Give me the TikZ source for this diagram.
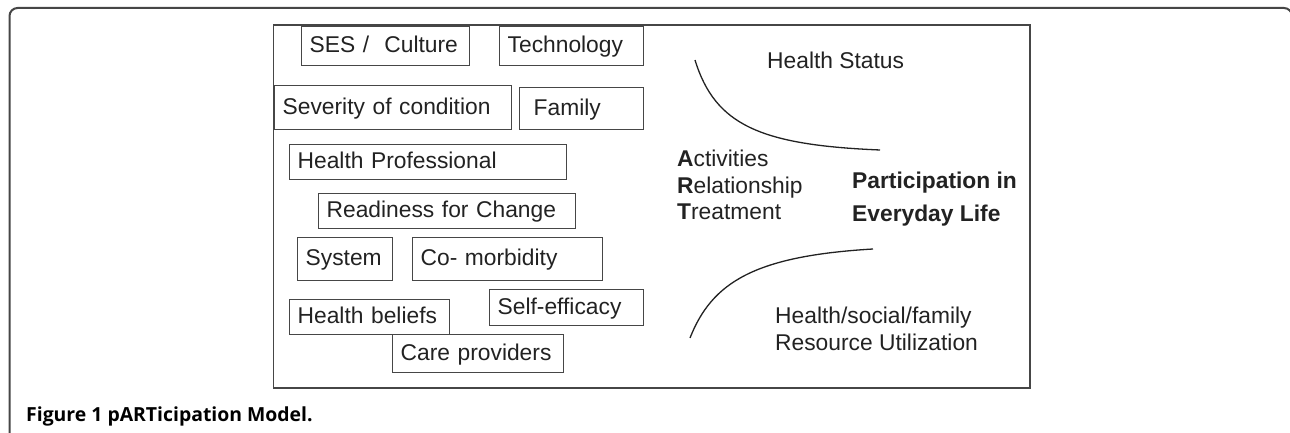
\documentclass[tikz,border=0pt]{standalone}
\usepackage{fontspec}
\setmainfont{Liberation Sans}
\newfontfamily\captionfont{Open Sans}
\usetikzlibrary{positioning}
\definecolor{ink}{RGB}{34,34,34}
\definecolor{rule}{RGB}{70,70,70}

\tikzset{
  factor/.style={draw=rule, line width=1.3pt, anchor=north west, inner xsep=8pt, inner ysep=0pt,
    align=left, text=ink, text height=17.5pt, text depth=4.5pt, font=\fontsize{22.8}{27}\selectfont},
  plaintext/.style={anchor=base west, inner sep=0pt, text=ink, font=\fontsize{22.8}{27}\selectfont},
  curve/.style={draw=ink, line width=1.3pt}
}

\begin{document}
\begin{tikzpicture}[x=1pt, y=-1pt]

\useasboundingbox (0, 0) rectangle (1290, 433);

\begin{scope}
\clip (0, 0) rectangle (1290, 433);
\draw[rule, line width=2pt, rounded corners=8pt] (9.5, 8) rectangle (1292, 442);
\end{scope}

\draw[rule, line width=1.6pt] (273.5, 25) rectangle (1030, 388);

\node[factor, minimum width=168pt, minimum height=39pt, text width=152pt] (ses) at (301, 26) {SES / \ Culture};
\node[factor, minimum width=144pt, minimum height=39pt, text width=128pt] (tech) at (499, 26) {Technology};
\node[factor, minimum width=237pt, minimum height=44pt, text width=221pt] (severity) at (274, 85) {Severity of condition};
\node[factor, minimum width=124pt, minimum height=42pt, text width=96pt, inner xsep=14pt] (family) at (519, 87) {Family};
\node[factor, minimum width=277pt, minimum height=35pt, text width=261pt] (profession) at (289, 144) {Health Professional};
\node[factor, minimum width=257pt, minimum height=35pt, text width=241pt] (readiness) at (318, 193) {Readiness for Change};
\node[factor, minimum width=95pt, minimum height=43pt, text width=79pt] (system) at (297, 237) {System};
\node[factor, minimum width=190pt, minimum height=43pt, text width=174pt] (comorb) at (412, 237) {Co- morbidity};
\node[factor, minimum width=154pt, minimum height=36pt, text width=138pt] (efficacy) at (489, 289) {Self-efficacy};
\node[factor, minimum width=160pt, minimum height=35pt, text width=144pt] (beliefs) at (289, 299) {Health beliefs};
\node[factor, minimum width=171pt, minimum height=38pt, text width=155pt] (carers) at (392, 334) {Care providers};

\node[plaintext] (status) at (767, 69) {Health Status};
\coordinate (status top) at (695, 60);
\coordinate (status end) at (880, 150);
\draw[curve] (status top) .. controls (715, 125) and (760, 145) .. (status end);

\node[plaintext] (act) at (677, 166) {\textbf{A}ctivities};
\node[plaintext] (rel) at (677, 193) {\textbf{R}elationship};
\node[plaintext] (treat) at (677, 219) {\textbf{T}reatment};

\node[plaintext, font=\fontsize{22.8}{27}\selectfont\bfseries] (part) at (852, 188) {Participation in};
\node[plaintext, font=\fontsize{22.8}{27}\selectfont\bfseries] (everyday) at (852, 221) {Everyday Life};

\coordinate (use low) at (690, 338);
\coordinate (use end) at (873, 249);
\draw[curve] (use low) .. controls (712, 282) and (755, 256) .. (use end);
\node[plaintext] (hsf) at (775, 323) {Health/social/family};
\node[plaintext] (resource) at (775, 350) {Resource Utilization};

\node[anchor=base west, inner sep=0pt, text=black, font=\captionfont\bfseries\fontsize{19.4}{22}\selectfont] (caption) at (26, 421) {Figure 1 pARTicipation Model.};

\end{tikzpicture}
\end{document}
